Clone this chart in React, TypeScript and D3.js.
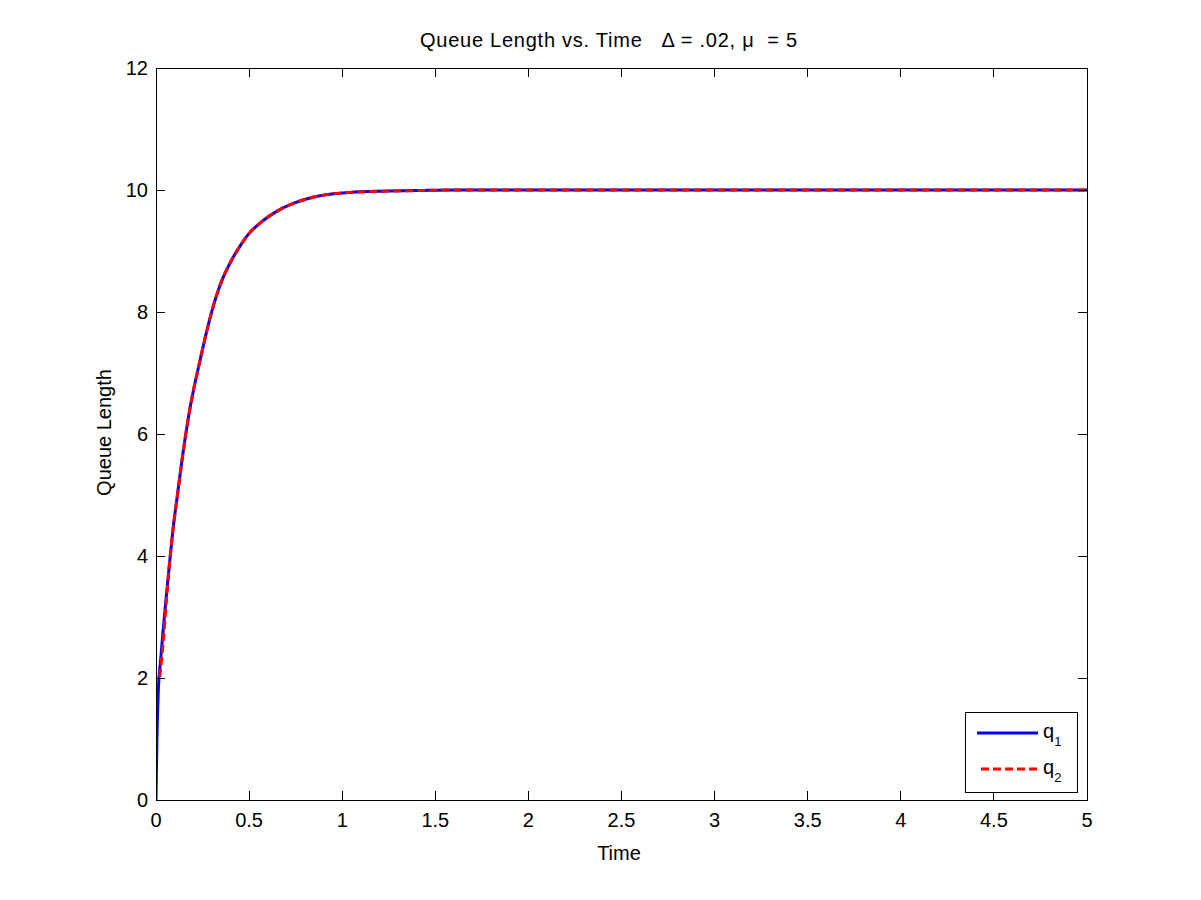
import React from "react";
import * as d3 from "d3";

const q1Time = [0, 0.005, 0.012, 0.025, 0.04, 0.057, 0.075, 0.09, 0.116, 0.13, 0.16, 0.183, 0.236, 0.272, 0.308, 0.344, 0.397, 0.451, 0.487, 0.576, 0.648, 0.737, 0.827, 0.934, 1.04, 1.2, 1.4, 1.6, 2, 3, 4, 5];
const q1Value = [0, 1.0, 1.75, 2.3, 2.84, 3.39, 3.95, 4.4, 5.02, 5.35, 6.0, 6.43, 7.2, 7.68, 8.1, 8.44, 8.8, 9.08, 9.24, 9.5, 9.65, 9.78, 9.87, 9.93, 9.96, 9.98, 9.99, 10, 10, 10, 10, 10];
const q2Time = [0.02, 0.039, 0.054, 0.071, 0.09, 0.116, 0.13, 0.16, 0.183, 0.236, 0.272, 0.308, 0.344, 0.397, 0.451, 0.487, 0.576, 0.648, 0.737, 0.827, 0.934, 1.04, 1.2, 1.4, 1.6, 2, 3, 4, 5];
const q2Value = [2.02, 2.6, 3.2, 3.83, 4.4, 5.02, 5.35, 6.0, 6.43, 7.2, 7.68, 8.1, 8.44, 8.8, 9.08, 9.24, 9.5, 9.65, 9.78, 9.87, 9.93, 9.96, 9.98, 9.99, 10, 10, 10, 10, 10];

const xTicks = [0, 0.5, 1, 1.5, 2, 2.5, 3, 3.5, 4, 4.5, 5];
const yTicks = [0, 2, 4, 6, 8, 10, 12];

const W = 1201, H = 900;
const L = 156, R = 1087, T = 68, B = 800;
const FONT = "'Liberation Sans', Arial, sans-serif";

export default function App() {
  const x = d3.scaleLinear().domain([0, 5]).range([L, R]);
  const y = d3.scaleLinear().domain([0, 12]).range([B, T]);
  const line = d3.line<[number, number]>().x(d => x(d[0])).y(d => y(d[1])).curve(d3.curveMonotoneX);
  const d1 = line(q1Time.map((t, i) => [t, q1Value[i]]) as [number, number][]) || "";
  const d2 = line(q2Time.map((t, i) => [t, q2Value[i]]) as [number, number][]) || "";
  const tl = 9;
  return (
    <svg width={W} height={H} style={{ position: "absolute", left: 0, top: 0, background: "#fff" }} fontFamily={FONT}>
      <rect x={0} y={0} width={W} height={H} fill="#fff" />
      <defs>
        <clipPath id="clip"><rect x={L} y={T - 2} width={R - L + 2} height={B - T + 4} /></clipPath>
      </defs>
      <g clipPath="url(#clip)">
        <path d={d1} fill="none" stroke="#0000ff" strokeWidth={3} />
        <path d={d2} fill="none" stroke="#ff0000" strokeWidth={3} strokeDasharray="8,4" />
      </g>
      <rect x={L} y={T} width={R - L} height={B - T} fill="none" stroke="#000" strokeWidth={1} shapeRendering="crispEdges" />
      {xTicks.map(t => (
        <g key={"x" + t}>
          <line x1={x(t)} x2={x(t)} y1={B} y2={B - tl} stroke="#000" shapeRendering="crispEdges" />
          <line x1={x(t)} x2={x(t)} y1={T} y2={T + tl} stroke="#000" shapeRendering="crispEdges" />
          <text x={x(t)} y={827} fontSize={20} textAnchor="middle">{String(t)}</text>
        </g>
      ))}
      {yTicks.map(v => (
        <g key={"y" + v}>
          <line x1={L} x2={L + tl} y1={y(v)} y2={y(v)} stroke="#000" shapeRendering="crispEdges" />
          <line x1={R} x2={R - tl} y1={y(v)} y2={y(v)} stroke="#000" shapeRendering="crispEdges" />
          <text x={148} y={y(v) + 7} fontSize={20} textAnchor="end">{String(v)}</text>
        </g>
      ))}
      <text x={420} y={47} fontSize={20} textAnchor="start" textLength={377} lengthAdjust="spacing" style={{ whiteSpace: "pre" }}>{"Queue Length vs. Time   \u0394 = .02, \u03bc  = 5"}</text>
      <text x={619} y={860} fontSize={20} textAnchor="middle">Time</text>
      <text transform={`translate(111,432.5) rotate(-90)`} fontSize={20} textAnchor="middle">Queue Length</text>
      <g>
        <rect x={965} y={712} width={112} height={80} fill="#fff" stroke="#000" shapeRendering="crispEdges" />
        <line x1={977} x2={1038} y1={733} y2={733} stroke="#0000ff" strokeWidth={3} />
        <text x={1043} y={738} fontSize={20}>q<tspan fontSize={13} dy={8}>1</tspan></text>
        <line x1={981} x2={1038} y1={769} y2={769} stroke="#ff0000" strokeWidth={3} strokeDasharray="8,4" />
        <text x={1043} y={774} fontSize={20}>q<tspan fontSize={13} dy={8}>2</tspan></text>
      </g>
    </svg>
  );
}
